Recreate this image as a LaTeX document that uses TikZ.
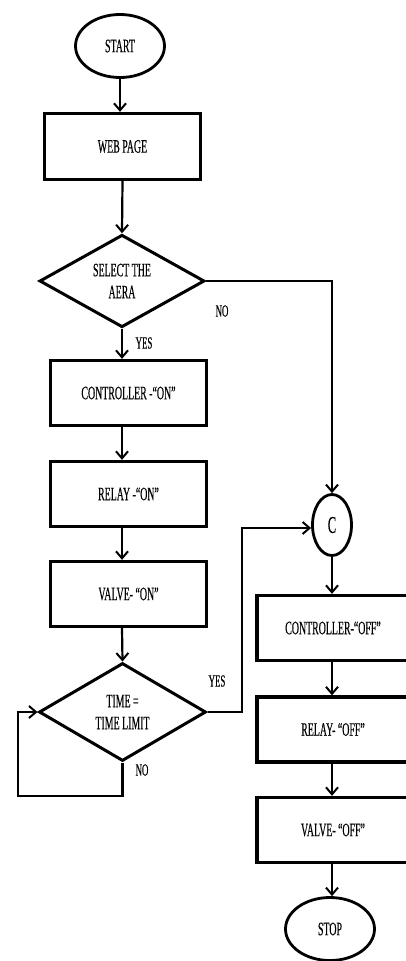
\documentclass[tikz,border=0pt]{standalone}
\usepackage{fontspec}
\setmainfont[FakeStretch=0.52, FakeBold=0.25]{Liberation Serif}
\usetikzlibrary{shapes.geometric,arrows.meta}
\begin{document}
\begin{tikzpicture}[x=1pt,y=-1pt,
  every node/.style={font=\fontsize{19}{22}\selectfont, align=center, inner sep=0pt},
  procbox/.style={draw, line width=3.3pt, rectangle, minimum width=156pt, minimum height=65pt},
  term/.style={draw, line width=2.8pt, ellipse, minimum width=89pt, minimum height=63pt},
  decide/.style={draw, line width=3pt, diamond},
  conn/.style={draw, line width=2.8pt, ellipse, minimum width=39pt, minimum height=61pt},
  flow/.style={line width=2.2pt, -{Straight Barb[length=7pt,width=12pt,line width=2pt]}},
  lbl/.style={font=\fontsize{17}{18}\selectfont}]
\useasboundingbox (0,0) rectangle (405,961);
\fill[white] (0,0) rectangle (405,961);
% left column
\node[term] (start) at (120,46) {START};
\node[procbox, minimum width=156pt, minimum height=66pt] (web) at (122.5,146.5) {WEB PAGE};
\node[decide, minimum width=165pt, minimum height=86pt] (sel) at (122,281) {SELECT THE\\AERA};
\node[procbox] (con) at (128.5,393) {CONTROLLER -“ON”};
\node[procbox] (rel) at (128.5,494) {RELAY -“ON”};
\node[procbox] (val) at (128.5,594) {VALVE- “ON”};
\node[decide, minimum width=167pt, minimum height=98pt] (tim) at (122.5,712) {TIME =\\TIME LIMIT};
% right column
\node[conn, font=\fontsize{24}{26}\selectfont] (c) at (332,525) {C};
\node[procbox, minimum width=152pt] (coff) at (333,628) {CONTROLLER-“OFF”};
\node[procbox, minimum width=152pt] (roff) at (333,729.5) {RELAY- “OFF”};
\node[procbox, minimum width=152pt] (voff) at (333,830) {VALVE- “OFF”};
\node[term] (stop) at (330,929) {STOP};
% labels
\node[lbl] (l1) at (222,311) {NO};
\node[lbl] (l2) at (144,343) {YES};
\node[lbl] (l3) at (217,681) {YES};
\node[lbl] (l4) at (142,770) {NO};
% coordinates
\coordinate (nocorner) at (332,281);
\coordinate (y1) at (242,712);
\coordinate (y2) at (242,528);
\coordinate (n1) at (122.5,796);
\coordinate (n2) at (18,796);
\coordinate (n3) at (18,712);
% connectors
\draw[flow] (start.south) -- (start.south |- web.north);
\draw[flow] (web.south) -- (sel.north);
\draw[flow] (sel.south) -- (sel.south |- con.north);
\draw[flow] (sel.south |- con.south) -- (sel.south |- rel.north);
\draw[flow] (sel.south |- rel.south) -- (sel.south |- val.north);
\draw[flow] (sel.south |- val.south) -- (tim.north);
\draw[flow] (sel.east) -- (nocorner) -- (c.north);
\draw[flow] (tim.east) -- (y1) -- (y2) -- (c.west |- y2);
\draw[flow] (tim.south) -- (n1) -- (n2) -- (n3) -- (tim.west);
\draw[flow] (c.south) -- (c.south |- coff.north);
\draw[flow] (c.south |- coff.south) -- (c.south |- roff.north);
\draw[flow] (c.south |- roff.south) -- (c.south |- voff.north);
\draw[flow] (c.south |- voff.south) -- (c.south |- stop.north);
\end{tikzpicture}
\end{document}
